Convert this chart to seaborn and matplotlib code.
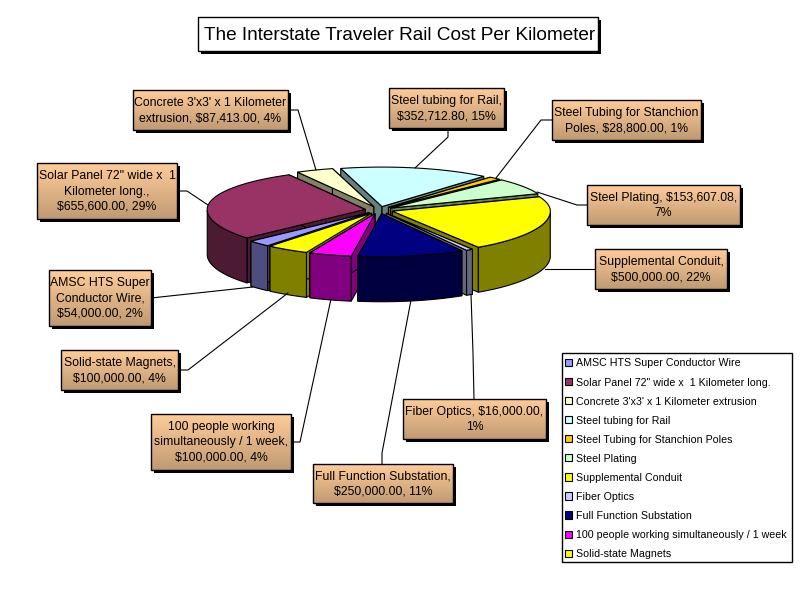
import numpy as np
import matplotlib.pyplot as plt
from matplotlib.patches import Polygon, Rectangle, Patch
import seaborn as sns

categories = ["AMSC HTS Super Conductor Wire", "Solar Panel 72\" wide x  1 Kilometer long.",
              "Concrete 3'x3' x 1 Kilometer extrusion", "Steel tubing for Rail",
              "Steel Tubing for Stanchion Poles", "Steel Plating", "Supplemental Conduit",
              "Fiber Optics", "Full Function Substation",
              "100 people working simultaneously / 1 week", "Solid-state Magnets"]
costs = [54000.00, 655600.00, 87413.00, 352712.80, 28800.00, 153607.08,
         500000.00, 16000.00, 250000.00, 100000.00, 100000.00]
top_colors = ["#9999FF", "#993366", "#FFFFCC", "#CCFFFF", "#FFCC00", "#CCFFCC",
              "#FFFF00", "#CCCCFF", "#000080", "#FF00FF", "#FFFF00"]
side_colors = ["#4D4D80", "#4D1A33", "#808066", "#668080", "#806600", "#668066",
               "#808000", "#666680", "#000040", "#800080", "#808000"]
label_texts = ["AMSC HTS Super\nConductor Wire,\n$54,000.00, 2%",
               "Solar Panel 72\" wide x  1\nKilometer long.,\n$655,600.00, 29%",
               "Concrete 3'x3' x 1 Kilometer\nextrusion, $87,413.00, 4%",
               "Steel tubing for Rail,\n$352,712.80, 15%",
               "Steel Tubing for Stanchion\nPoles, $28,800.00, 1%",
               "Steel Plating, $153,607.08,\n7%",
               "Supplemental Conduit,\n$500,000.00, 22%",
               "Fiber Optics, $16,000.00,\n1%",
               "Full Function Substation,\n$250,000.00, 11%",
               "100 people working\nsimultaneously / 1 week,\n$100,000.00, 4%",
               "Solid-state Magnets,\n$100,000.00, 4%"]
title_text = "The Interstate Traveler Rail Cost Per Kilometer"

# layout, in pixels of the 800x600 picture
label_boxes = [(49, 270, 151, 326), (37, 163, 177, 219), (133, 90, 288, 130),
               (389, 88, 504, 128), (552, 100, 701, 140), (587, 185, 740, 225),
               (595, 249, 727, 289), (403, 399, 546, 439), (313, 464, 453, 503),
               (151, 414, 291, 470), (61, 350, 178, 390)]
leaders = [[(151, 298), (253, 287)], [(177, 191), (187, 191), (208, 205)],
           [(288, 110), (298, 110), (316, 170)], [(448, 128), (448, 137), (415, 168)],
           [(552, 120), (541, 120), (496, 178)], [(587, 205), (577, 205), (537, 192)],
           [(595, 269), (545, 269)], [(474, 399), (473, 353), (471, 294)],
           [(382, 464), (382, 453), (411, 300)], [(291, 442), (300, 442), (331, 299)],
           [(178, 370), (188, 370), (288, 293)]]
cx, cy = 379, 210
radius = 158
ry_back, ry_front = 39.5, 43
depth = 45
explode = 14
start = 220

sns.set_theme(style="white")
plt.rcParams['font.family'] = ['Liberation Sans', 'DejaVu Sans']

fig = plt.figure(figsize=(8, 6), dpi=100)
ax = fig.add_axes([0, 0, 1, 1])
ax.axis('off')


def project(angle, r):
    # clockwise degrees from north -> picture pixels
    a = np.radians(angle)
    dy = np.cos(a)
    scale = np.where(dy > 0, ry_back, ry_front)
    return r * np.sin(a), -r * dy * scale / radius


shares = np.array(costs) / sum(costs)
edges = start + np.concatenate([[0], np.cumsum(shares) * 360])
mids = (edges[:-1] + edges[1:]) / 2

# far slices first so the near ones cover them
order = sorted(range(len(costs)), key=lambda i: -np.cos(np.radians(mids[i])))
for i in order:
    ox, oy = project(mids[i], explode)
    ox, oy = ox + cx, oy + cy
    arc = np.linspace(edges[i], edges[i + 1], 60)
    ax_x, ax_y = project(arc, radius)
    ax_x, ax_y = ax_x + ox, ax_y + oy
    for k in (0, -1):
        wall = [(ox, oy), (ax_x[k], ax_y[k]), (ax_x[k], ax_y[k] + depth), (ox, oy + depth)]
        ax.add_patch(Polygon(wall, fc=side_colors[i], ec='black', lw=0.8))
    front = np.cos(np.radians(arc)) < 0
    if front.any():
        fx, fy = ax_x[front], ax_y[front]
        outer = np.r_[np.c_[fx, fy], np.c_[fx, fy + depth][::-1]]
        ax.add_patch(Polygon(outer, fc=side_colors[i], ec='black', lw=0.8))
    top = np.r_[[(ox, oy)], np.c_[ax_x, ax_y]]
    ax.add_patch(Polygon(top, fc=top_colors[i], ec='black', lw=0.8))

for pts in leaders:
    xs, ys = zip(*pts)
    ax.plot(xs, ys, color='black', lw=0.8, zorder=5)

gradient = np.linspace(0, 1, 64)[:, None, None]
light = np.array([255, 204, 153]) / 255
dark = np.array([192, 154, 115]) / 255
shade = light + gradient * (dark - light)
for (x0, y0, x1, y1), text in zip(label_boxes, label_texts):
    ax.add_patch(Rectangle((x0 + 3, y0 + 3), x1 - x0, y1 - y0, fc='black', ec='black', lw=0, zorder=6))
    ax.imshow(shade, extent=(x0, x1, y1, y0), aspect='auto', zorder=7)
    ax.add_patch(Rectangle((x0, y0), x1 - x0, y1 - y0, fc='none', ec='black', lw=1, zorder=8))
    ax.text((x0 + x1) / 2, (y0 + y1) / 2 + 0.5, text, ha='center', va='center', fontsize=8.8,
            linespacing=1.35, color='black', zorder=9)
ax.set_xlim(0, 800)
ax.set_ylim(600, 0)

# title
ax.add_patch(Rectangle((201, 20), 400, 34, fc='black', ec='black', lw=0, zorder=6))
ax.add_patch(Rectangle((198, 17), 400, 34, fc='white', ec='black', lw=1, zorder=7))
ax.text(399.5, 36, title_text, ha='center', va='center', fontsize=13.7, color='black', zorder=8)

# legend frame is drawn by hand, its padding differs per side
ax.add_patch(Rectangle((562, 353), 230, 209, fc='white', ec='black', lw=1, zorder=9))
handles = [Patch(fc=c, ec='black', lw=0.8) for c in top_colors]
legend = ax.legend(handles, categories, loc='upper left', bbox_to_anchor=(565 / 800, 1 - 358.5 / 600),
                   bbox_transform=fig.transFigure, frameon=False, fontsize=7.7, labelspacing=0.845,
                   handlelength=0.65, handleheight=0.65, handletextpad=0.35, borderpad=0,
                   borderaxespad=0, labelcolor='black')
legend.set_zorder(10)

fig.savefig('out.png', dpi=100)
